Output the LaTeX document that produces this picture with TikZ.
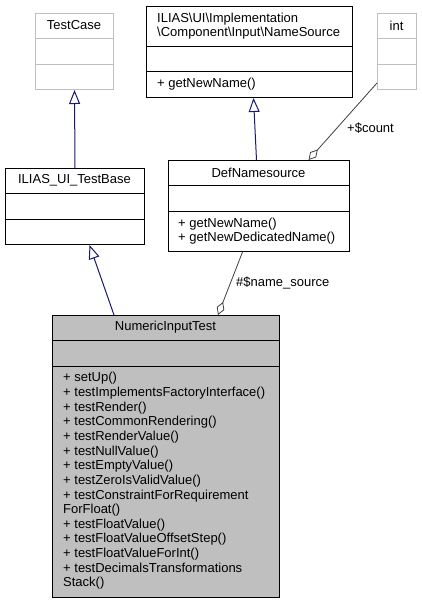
\documentclass[tikz,border=0pt]{standalone}
\usepackage{fontspec}
\setmainfont{Liberation Sans}
\usetikzlibrary{arrows.meta}
\definecolor{navyline}{HTML}{191970}
\definecolor{graybox}{HTML}{BFBFBF}
\definecolor{aggline}{HTML}{404040}
\tikzset{
  umlbox/.style={draw=black, line width=1pt, inner sep=0pt, anchor=north west, fill=white},
  ghostbox/.style={umlbox, draw=graybox},
  focusbox/.style={umlbox, fill=graybox},
  divider/.style={draw=black, line width=1pt},
  ghostdivider/.style={draw=graybox, line width=1pt},
  title/.style={inner sep=0pt, anchor=center},
  members/.style={inner sep=0pt, anchor=west, align=left},
  inherit/.style={draw=navyline, line width=1pt, -{Triangle[open, length=14pt, width=11pt, fill=white]}},
  aggreg/.style={draw=aggline, line width=0.8pt, -{Diamond[open, length=14pt, width=8pt, fill=white]}},
  rolelabel/.style={inner sep=0pt, anchor=west}
}
\begin{document}
\begin{tikzpicture}[x=1pt, y=-1pt, font=\fontsize{13}{14.64}\selectfont]
\useasboundingbox (0,0) rectangle (421,603);
% TestCase
\node[ghostbox, minimum width=78pt, minimum height=76pt] (testcase) at (35,13) {};
\draw[ghostdivider] (35,38) -- (113,38);
\draw[ghostdivider] (35,64) -- (113,64);
\node[title] (testcasetitle) at (74,25.5) {TestCase};
% NameSource interface
\node[umlbox, minimum width=206pt, minimum height=91pt] (ns) at (146,6) {};
\draw[divider] (146,46) -- (352,46);
\draw[divider] (146,71) -- (352,71);
\node[members] (nstitle) at (157,26) {ILIAS\textbackslash UI\textbackslash Implementation\\\textbackslash Component\textbackslash Input\textbackslash NameSource};
\node[members] (nsops) at (157,84) {+ getNewName()};
% int
\node[ghostbox, minimum width=39pt, minimum height=76pt] (int) at (377,13) {};
\draw[ghostdivider] (377,38) -- (416,38);
\draw[ghostdivider] (377,64) -- (416,64);
\node[title] (inttitle) at (396.5,25.5) {int};
% ILIAS_UI_TestBase
\node[umlbox, minimum width=139pt, minimum height=76pt] (testbase) at (5,168) {};
\draw[divider] (5,193) -- (144,193);
\draw[divider] (5,219) -- (144,219);
\node[title] (testbasetitle) at (74.5,180.5) {ILIAS\_UI\_TestBase};
% DefNamesource
\node[umlbox, minimum width=181pt, minimum height=91pt] (defns) at (168,160) {};
\draw[divider] (168,185) -- (349,185);
\draw[divider] (168,211) -- (349,211);
\node[title] (defnstitle) at (258.5,172.5) {DefNamesource};
\node[members] (defnsops) at (178,231) {+ getNewName()\\+ getNewDedicatedName()};
% NumericInputTest
\node[focusbox, minimum width=227pt, minimum height=282pt] (nit) at (52,315) {};
\draw[divider] (52,340) -- (279,340);
\draw[divider] (52,366) -- (279,366);
\node[title] (nittitle) at (165.5,327.5) {NumericInputTest};
\node[members] (nitops) at (63,481) {+ setUp()\\+ testImplementsFactoryInterface()\\+ testRender()\\+ testCommonRendering()\\+ testRenderValue()\\+ testNullValue()\\+ testEmptyValue()\\+ testZeroIsValidValue()\\+ testConstraintForRequirement\\ForFloat()\\+ testFloatValue()\\+ testFloatValueOffsetStep()\\+ testFloatValueForInt()\\+ testDecimalsTransformations\\Stack()};
% connectors
\draw[inherit] (testbase.north) -- (testcase.south);
\draw[inherit] ([xshift=-2.5pt]defns.north) -- ([xshift=4pt]ns.south);
\draw[inherit] ([xshift=62pt]nit.north west) -- ([xshift=14.5pt]testbase.south);
\draw[aggreg] ([yshift=7pt]int.south west) -- ([xshift=49.5pt]defns.north);
\draw[aggreg] ([xshift=-16.5pt]defns.south) -- ([xshift=166pt]nit.north west);
\node[rolelabel] (countlabel) at (347,128) {+\$count};
\node[rolelabel] (nslabel) at (236,283) {\#\$name\_source};
\end{tikzpicture}
\end{document}
